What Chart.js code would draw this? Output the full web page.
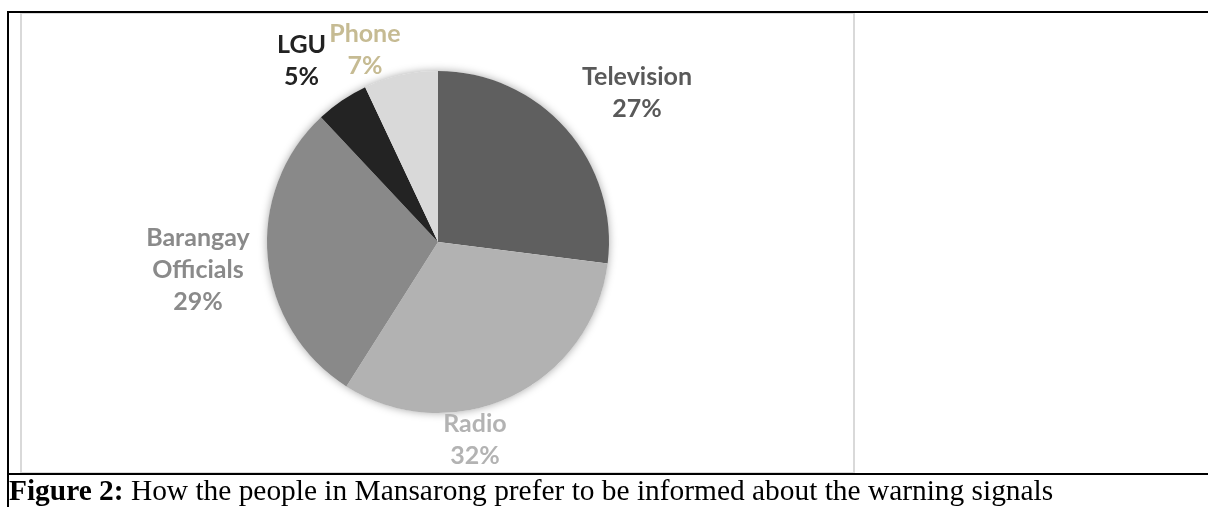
<!DOCTYPE html>
<html>
<head>
<meta charset="utf-8">
<script src="https://cdn.jsdelivr.net/npm/chart.js@4.4.1/dist/chart.umd.min.js"></script>
<style>
  body { margin: 0; width: 1208px; height: 507px; background: #fff; position: relative; overflow: hidden; }
  .line { position: absolute; background: #000; }
  #frame { position: absolute; left: 20px; top: 12px; width: 831px; height: 458px; border: 2px solid #d9d9d9; }
  #pie { position: absolute; left: 22px; top: 12px; }
  #caption { position: absolute; left: 9px; top: 474px; font: 29.4px "Liberation Serif", "Times New Roman", serif; color: #000; white-space: nowrap; }
</style>
</head>
<body>
<div id="frame"></div>
<canvas id="pie" width="832" height="460"></canvas>
<div class="line" style="left:7px;top:11px;width:1201px;height:2px"></div>
<div class="line" style="left:7px;top:11px;width:2px;height:496px"></div>
<div class="line" style="left:7px;top:473px;width:1201px;height:2px"></div>
<div id="caption"><b>Figure 2:</b> How the people in Mansarong prefer to be informed about the warning signals</div>

<script>
/* ========= DATA ========= */
const categories = ["Television", "Radio", ["Barangay", "Officials"], "LGU", "Phone"];
const shares = [27, 32, 29, 5, 7];

/* ========= LOOK ========= */
const sliceColors = ["#5f5f5f", "#b2b2b2", "#898989", "#232323", "#d9d9d9"];
const labelColors = ["#595959", "#b3b3b3", "#8a8a8a", "#222222", "#c6bb93"];
// small pixel nudges from the radial label point
const labelNudge = [[37, -6], [-55, 2], [-25, 8], [-15, -2], [-26, 19]];

/* ========= PLUGINS ========= */
const pieShadow = {
  id: "pieShadow",
  beforeDatasetsDraw(chart) {
    const arc = chart.getDatasetMeta(0).data[0];
    if (!arc) return;
    const { x, y, outerRadius } = arc.getProps(["x", "y", "outerRadius"], true);
    const ctx = chart.ctx;
    ctx.save();
    ctx.shadowColor = "rgba(0,0,0,0.35)";
    ctx.shadowBlur = 9;
    ctx.fillStyle = "#fff";
    ctx.beginPath();
    ctx.arc(x, y, outerRadius, 0, Math.PI * 2);
    ctx.fill();
    ctx.restore();
  }
};

const pieLabels = {
  id: "pieLabels",
  afterDatasetsDraw(chart) {
    const ctx = chart.ctx;
    chart.getDatasetMeta(0).data.forEach((arc, i) => {
      const p = arc.getProps(["x", "y", "startAngle", "endAngle", "outerRadius"], true);
      const mid = (p.startAngle + p.endAngle) / 2;
      const d = p.outerRadius + 45;
      const lx = p.x + Math.cos(mid) * d + labelNudge[i][0];
      const ly = p.y + Math.sin(mid) * d + labelNudge[i][1];
      const lines = [].concat(chart.data.labels[i], shares[i] + "%");
      ctx.save();
      ctx.font = "bold 25px Lato";
      ctx.fillStyle = labelColors[i];
      ctx.textAlign = "center";
      ctx.textBaseline = "middle";
      lines.forEach((t, k) => ctx.fillText(t, lx, ly + (k - (lines.length - 1) / 2) * 32));
      ctx.restore();
    });
  }
};

/* ========= CHART ========= */
new Chart(document.getElementById("pie"), {
  type: "pie",
  data: {
    labels: categories,
    datasets: [{
      data: shares,
      backgroundColor: sliceColors,
      borderWidth: 0,
      radius: 171
    }]
  },
  options: {
    responsive: false,
    animation: false,
    devicePixelRatio: 1,
    plugins: { legend: { display: false }, tooltip: { enabled: false } }
  },
  plugins: [pieShadow, pieLabels]
});
</script>
</body>
</html>
